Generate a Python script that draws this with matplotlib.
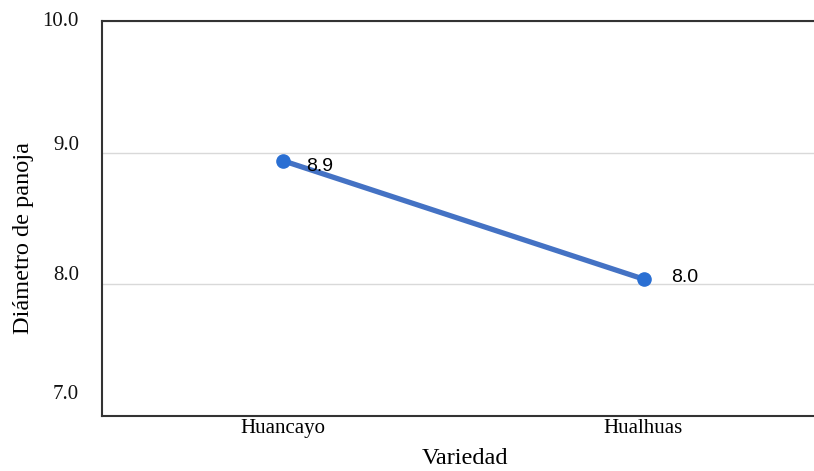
import matplotlib
matplotlib.use("Agg")
import matplotlib.pyplot as plt
import matplotlib.transforms as mtransforms

# Panicle diameter by variety
variedades = ["Huancayo", "Hualhuas"]
diametro = [8.94, 8.04]
y_ticks = [7.0, 8.0, 9.0, 10.0]
y_tick_labels = ["7.0", "8.0", "9.0", "10.0"]

serif = "Liberation Serif"
sans = "Liberation Sans"

fig = plt.figure(figsize=(8.14, 4.71), dpi=100)
ax = fig.add_axes([102 / 814, 1 - 416 / 471, 722 / 814, 395 / 471])

x = list(range(len(variedades)))
ax.plot(x, diametro, color="#4472C4", lw=3.8, solid_capstyle="round", zorder=3)
ax.plot(x, diametro, "o", color="#2A6FD3", markersize=9.5, zorder=4)

for xi, v, off in zip(x, diametro, [(24, -6), (28, 2)]):
    ax.annotate(f"{v:.1f}", (xi, v), xytext=off, textcoords="offset pixels",
                ha="left", va="center", fontsize=14, family=sans, color="black",
                zorder=5)

ax.set_xlim(-0.5, 1.5)
ax.set_ylim(7.0, 10.0)
ax.set_xticks(x)
ax.set_xticklabels(variedades, fontsize=15, family=serif)
ax.tick_params(axis="x", length=0, pad=2)

# y gridlines with hand-placed tick labels
ax.set_yticks(y_ticks)
ax.set_yticklabels([])
ax.tick_params(axis="y", length=0)
ax.grid(axis="y", color="#d9d9d9", lw=1.0)
ax.set_axisbelow(True)
label_shift = {7.0: 21, 8.0: 9, 9.0: 7, 10.0: -1}
for val, lab in zip(y_ticks, y_tick_labels):
    tr = mtransforms.blended_transform_factory(ax.transAxes, ax.transData)
    tr = tr + mtransforms.ScaledTranslation(-23 / 100, label_shift[val] / 100,
                                            fig.dpi_scale_trans)
    ax.text(0, val, lab, transform=tr, ha="right", va="center",
            fontsize=15, family=serif, color="#111111")

for side in ["left", "top", "bottom"]:
    ax.spines[side].set_color("#333333")
    ax.spines[side].set_linewidth(1.5)
ax.spines["right"].set_visible(False)

fig.text(24 / 814, 1 - 238 / 471, "Diámetro de panoja", rotation=90,
         ha="center", va="center", fontsize=17.5, family=serif)
fig.text(465 / 814, 1 - 458 / 471, "Variedad", ha="center", va="center",
         fontsize=17.5, family=serif)

fig.savefig("out.png", dpi=100)
